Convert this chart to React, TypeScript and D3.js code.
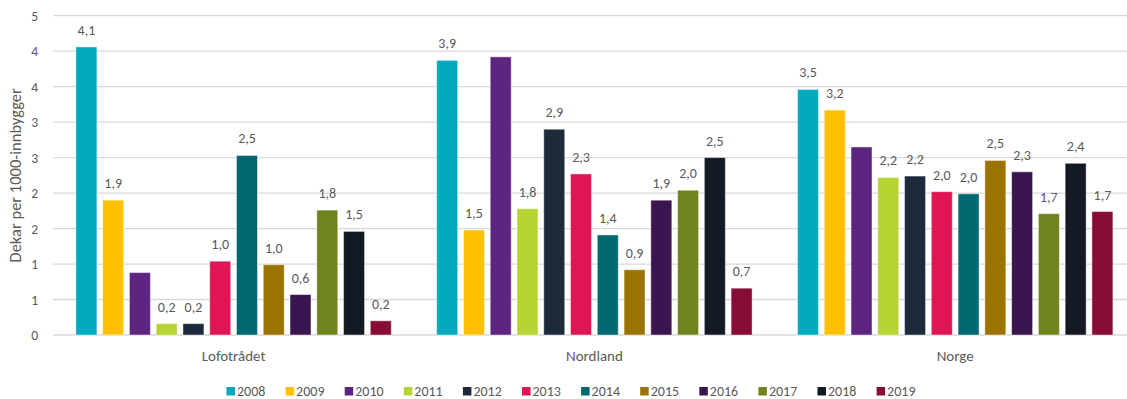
import React from "react";
import * as d3 from "d3";

const categories = ["Lofotrådet", "Nordland", "Norge"];
const years = ["2008", "2009", "2010", "2011", "2012", "2013", "2014", "2015", "2016", "2017", "2018", "2019"];
const colors = ["#00A9BB", "#FFC000", "#5E2580", "#B6D334", "#1C2A3A", "#E01554", "#006870", "#9A7300", "#3B154F", "#6F841F", "#131A24", "#870D35"];
const showLabel = [true, true, false, true, true, true, true, true, true, true, true, true];

const lofotradet = [4.06, 1.9, 0.88, 0.16, 0.16, 1.04, 2.53, 0.99, 0.57, 1.76, 1.46, 0.2];
const nordland = [3.87, 1.48, 3.92, 1.78, 2.9, 2.27, 1.41, 0.92, 1.9, 2.04, 2.5, 0.66];
const norge = [3.46, 3.17, 2.65, 2.22, 2.24, 2.02, 1.99, 2.46, 2.3, 1.71, 2.42, 1.74];

const yTicks = [0, 0.5, 1, 1.5, 2, 2.5, 3, 3.5, 4, 4.5];
const yTickLabels = ["0", "1", "1", "2", "2", "3", "3", "4", "4", "5"];

const yTitle = "Dekar per 1000-innbygger";

const W = 1127;
const H = 399;
const FONT = "Calibri, Carlito, Lato, sans-serif";
const TXT = "#595959";

export default function App() {
  const series = [lofotradet, nordland, norge];
  const x0 = d3.scaleBand<string>().domain(categories).range([53.2, 1135.6]).padding(0);
  const x1 = d3.scaleBand<string>().domain(years).range([22.7, x0.bandwidth() - 22.7]).paddingInner(0.216).paddingOuter(0);
  const y = d3.scaleLinear().domain([0, 4.5]).range([335, 15.7]);
  const fmt = (v: number) => d3.format(".1f")(v).replace(".", ",");

  const legendStep = 59.1;
  const legendX0 = 226.5;

  return (
    <svg width={W} height={H} style={{ position: "absolute", left: 0, top: 0, display: "block", background: "#fff" }} fontFamily={FONT}>
      {yTicks.map((t, i) => (
        <g key={"t" + i}>
          <line x1={53} x2={W} y1={y(t)} y2={y(t)} stroke="#d9d9d9" strokeWidth={1.3} />
          <text x={38} y={y(t) + 5} textAnchor="end" fontSize={13.5} fill={TXT}>{yTickLabels[i]}</text>
        </g>
      ))}
      <text transform={`translate(21,${(y(0) + y(4.5)) / 2}) rotate(-90)`} textAnchor="middle" fontSize={16.5} fill={TXT}>{yTitle}</text>
      {categories.map((c, ci) => (
        <g key={c} transform={`translate(${x0(c)},0)`}>
          {years.map((yr, yi) => {
            const v = series[ci][yi];
            const bx = x1(yr)!;
            return (
              <g key={yr}>
                <rect x={bx} y={y(v)} width={x1.bandwidth()} height={y(0) - y(v)} fill={colors[yi]} stroke="#ffffff" strokeOpacity={0.45} strokeWidth={1} />
                {showLabel[yi] && (
                  <text x={bx + x1.bandwidth() / 2} y={y(v) - 12} textAnchor="middle" fontSize={14} fill={TXT}>{fmt(v)}</text>
                )}
              </g>
            );
          })}
          <text x={x0.bandwidth() / 2} y={361} textAnchor="middle" fontSize={15} fill={TXT}>{c}</text>
        </g>
      ))}
      {years.map((yr, i) => (
        <g key={"l" + yr} transform={`translate(${legendX0 + i * legendStep},0)`}>
          <rect x={0} y={387} width={8.5} height={8.5} fill={colors[i]} />
          <text x={10.5} y={396} fontSize={14} fill={TXT}>{yr}</text>
        </g>
      ))}
    </svg>
  );
}
